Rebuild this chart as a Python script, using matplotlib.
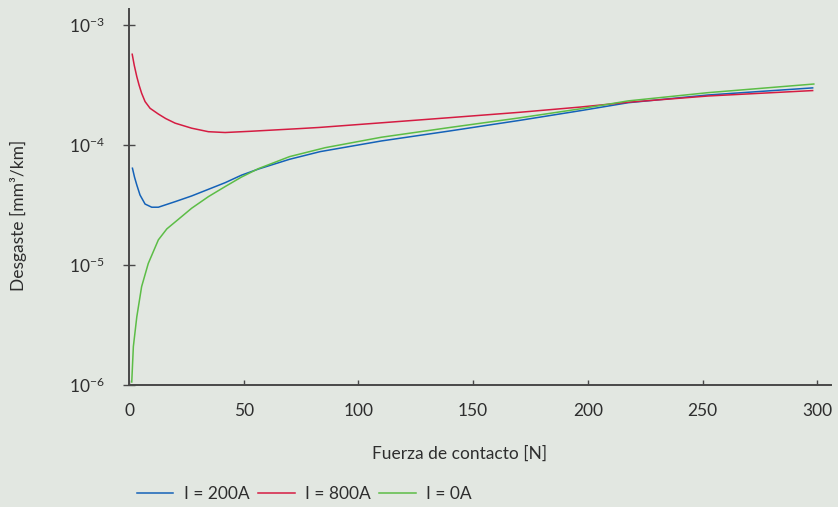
import numpy as np
import matplotlib
matplotlib.use("Agg")
import matplotlib.pyplot as plt

# Style : police humaniste proche de l'original
plt.rcParams['font.family'] = ['Lato', 'DejaVu Sans']
plt.rcParams['mathtext.fontset'] = 'custom'
plt.rcParams['mathtext.rm'] = 'Lato'

# -------------------------------------------
# Données
# -------------------------------------------
x_200 = [1.5, 2.4, 3.4, 4.8, 7.0, 9.9, 12.8, 20.1, 27.3, 34.6, 41.9, 49,
         56.4, 70, 83.3, 110, 140, 170, 196.7, 217.6, 252.5, 298]
y_200 = [6.4e-5, 5.4e-5, 4.64e-5, 3.83e-5, 3.22e-5, 3.03e-5, 3.03e-5, 3.37e-5,
         3.76e-5, 4.27e-5, 4.85e-5, 5.6e-5, 6.3e-5, 7.6e-5, 8.8e-5, 1.08e-4,
         1.31e-4, 1.6e-4, 1.93e-4, 2.25e-4, 2.61e-4, 2.99e-4]

x_800 = [1.4, 2.3, 3.4, 4.4, 5.5, 7.0, 9.2, 12.8, 16, 20.1, 27.3, 34.6, 41.9,
         52.8, 74.6, 83, 110, 140, 170, 196.7, 217.6, 252.5, 298]
y_800 = [5.7e-4, 4.6e-4, 3.71e-4, 3.15e-4, 2.70e-4, 2.30e-4, 2.02e-4, 1.81e-4,
         1.66e-4, 1.52e-4, 1.38e-4, 1.29e-4, 1.27e-4, 1.30e-4, 1.37e-4,
         1.40e-4, 1.53e-4, 1.69e-4, 1.87e-4, 2.07e-4, 2.27e-4, 2.56e-4, 2.84e-4]

x_0 = [1.2, 1.9, 3.4, 5.5, 8.4, 12.8, 16.5, 21.5, 27.3, 34.6, 41.9, 49,
       56.4, 70, 85.6, 110, 140, 170, 196.7, 217.6, 252.5, 298.5]
y_0 = [1.06e-6, 2.09e-6, 3.7e-6, 6.6e-6, 1.03e-5, 1.62e-5, 2.0e-5, 2.4e-5,
       2.97e-5, 3.71e-5, 4.5e-5, 5.4e-5, 6.35e-5, 8.0e-5, 9.5e-5, 1.16e-4,
       1.40e-4, 1.68e-4, 2.0e-4, 2.33e-4, 2.73e-4, 3.22e-4]

series = [("I = 200A", x_200, y_200, "#1462b8"),
          ("I = 800A", x_800, y_800, "#d51c42"),
          ("I = 0A", x_0, y_0, "#5cbd46")]

x_ticks = [0, 50, 100, 150, 200, 250, 300]
y_ticks = [1e-6, 1e-5, 1e-4, 1e-3]
y_tick_labels = [r"$\mathregular{10^{-6}}$", r"$\mathregular{10^{-5}}$",
                 r"$\mathregular{10^{-4}}$", r"$\mathregular{10^{-3}}$"]

bg = "#e2e7e1"
txt = "#2e2e2e"
axc = "#484848"

# -------------------------------------------
# Figure
# -------------------------------------------
fig = plt.figure(figsize=(8.38, 5.07), dpi=100, facecolor=bg)
ax = fig.add_axes([129/838, 1 - 385/507, 702/838, 376/507])
ax.set_facecolor(bg)

for label, xs, ys, col in series:
    ax.plot(xs, ys, color=col, linewidth=1.1, label=label,
            solid_joinstyle="round")

ax.set_yscale("log")
ax.set_xlim(0, 306)
ax.set_ylim(1e-6, 10**-2.867)

ax.set_xticks(x_ticks)
ax.set_yticks(y_ticks)
ax.set_yticklabels(y_tick_labels)
ax.yaxis.set_minor_locator(matplotlib.ticker.NullLocator())

for s in ["top", "right"]:
    ax.spines[s].set_visible(False)
for s in ["left", "bottom"]:
    ax.spines[s].set_color(axc)
    ax.spines[s].set_linewidth(1.4)

ax.tick_params(axis="x", direction="in", length=3.5, width=1.0, color=axc,
               labelsize=12.5, labelcolor=txt, pad=13)
ax.tick_params(axis="y", direction="inout", length=8.5, width=1.0, color=axc,
               labelsize=12.5, labelcolor=txt, pad=13)

# Titres des axes
fig.text(460/838, 1 - 454/507, "Fuerza de contacto [N]", ha="center", va="center",
         fontsize=12.5, color=txt)
fig.text(18/838, 1 - 215/507, "Desgaste [mm³/km]", ha="center", va="center",
         rotation=90, fontsize=12.5, color=txt)

# Légende en bas
fig.legend(loc="center left", bbox_to_anchor=(137/838, 1 - 494/507), ncol=3,
           frameon=False, fontsize=12.5, handlelength=2.1, handletextpad=0.6,
           columnspacing=0.5, borderaxespad=0, borderpad=0, labelcolor=txt,
           handleheight=0.7)

fig.savefig("out.png", dpi=100, facecolor=bg)
